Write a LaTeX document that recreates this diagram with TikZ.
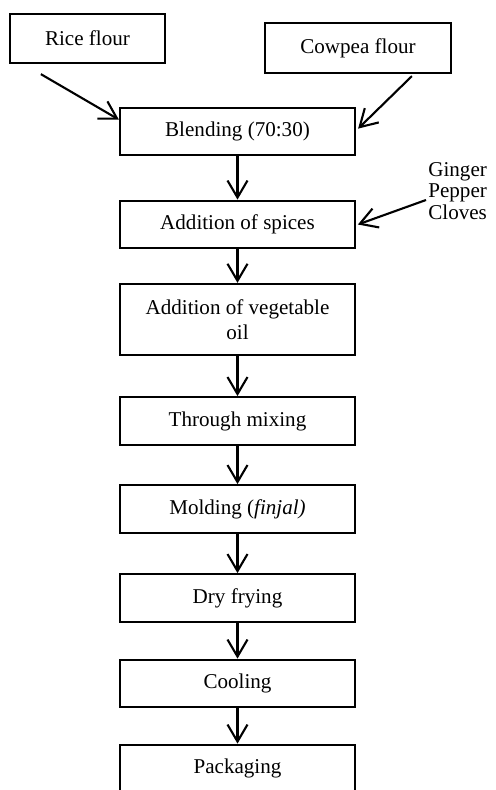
\documentclass[tikz,border=0pt]{standalone}
\usepackage{fontspec}
\setmainfont{Liberation Serif}
\usetikzlibrary{positioning,arrows.meta}
\tikzstyle{process} = [rectangle, draw=black, line width=1.3pt, minimum width=4.7cm, minimum height=0.95cm, text centered, font=\fontsize{12}{14}\selectfont]
\tikzstyle{source}  = [rectangle, draw=black, line width=1.3pt, minimum height=0.98cm, text centered, font=\fontsize{12}{14}\selectfont]
\tikzstyle{arrow}   = [line width=1.2pt,-{Straight Barb[length=3.4mm,width=4mm]}]

\begin{document}
\begin{tikzpicture}[x=0.02cm,y=-0.02cm]
		\useasboundingbox (0,0) rectangle (495,790);

		% raw materials
		\node[source, minimum width=3.1cm] (rice) at (87.5,38.5) {Rice flour};
		\node[source, minimum width=3.72cm, minimum height=1cm] (cowpea) at (358,48) {Cowpea flour};

		% main line
		\node[process] (blend) at (237.5,131.5) {Blending (70:30)};
		\node[process] (spices) at (237.5,224.5) {Addition of spices};
		\node[process, minimum height=1.42cm, align=center] (oil) at (237.5,319.5) {Addition of vegetable\\oil};
		\node[process] (mix) at (237.5,421) {Through mixing};
		\node[process] (mold) at (237.5,509) {Molding (\textit{finjal)}};
		\node[process] (dry) at (237.5,598) {Dry frying};
		\node[process] (cool) at (237.5,683.5) {Cooling};
		\node[process] (pack) at (237.5,768.5) {Packaging};

		% spices list
		\node[align=left, inner sep=0pt, font=\fontsize{12}{12.4}\selectfont, anchor=west] (spicelist) at (428,191) {Ginger\\Pepper\\Cloves};

		\draw[arrow] ([shift={(32,10)}]rice.south west) -- ([shift={(0,13)}]blend.north west);
		\draw[arrow] ([shift={(148,2)}]cowpea.south west) -- ([shift={(2,22)}]blend.north east);
		\draw[arrow] ([shift={(-2,9)}]spicelist.west) -- ([xshift=1pt]spices.east);

		\draw[arrow] (blend) -- (spices);
		\draw[arrow] (spices) -- (oil);
		\draw[arrow] (oil) -- (mix);
		\draw[arrow] (mix) -- (mold);
		\draw[arrow] (mold) -- (dry);
		\draw[arrow] (dry) -- (cool);
		\draw[arrow] (cool) -- (pack);
	\end{tikzpicture}
\end{document}
